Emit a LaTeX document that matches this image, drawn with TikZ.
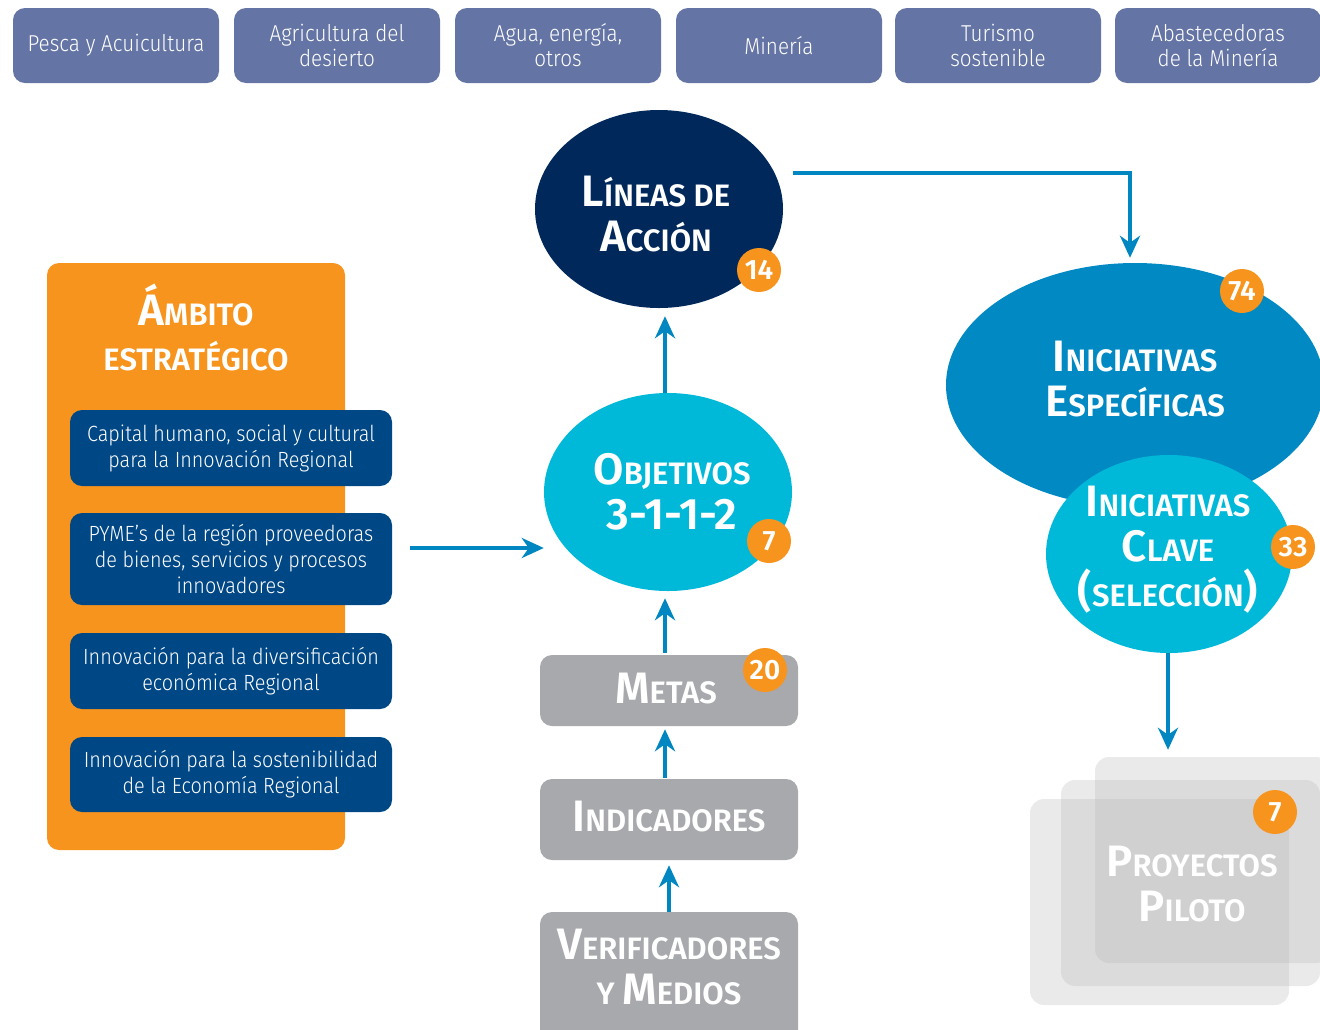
\documentclass[tikz,border=0pt]{standalone}
\usepackage{fontspec}
\setmainfont{Fira Sans}[UprightFont=* Light, BoldFont=* SemiBold, FakeStretch=0.9]
\newfontfamily\hd{Fira Sans SemiBold}
\usetikzlibrary{shapes.geometric,arrows.meta,calc}
\definecolor{topblue}{HTML}{6474A4}
\definecolor{navy}{HTML}{00285A}
\definecolor{orng}{HTML}{F7941D}
\definecolor{arrblue}{HTML}{0087C1}
\definecolor{espblue}{HTML}{0089C3}
\definecolor{cyanb}{HTML}{00B9D9}
\definecolor{grayb}{HTML}{A7A9AC}
\definecolor{darkb}{HTML}{004785}
\definecolor{pgray}{RGB}{180,180,182}
\newcommand\Bg[1]{{\fontsize{44}{45}\selectfont #1}}
\begin{document}
\begin{tikzpicture}[x=1pt,y=-1pt,
  topbox/.style={draw=none,fill=topblue,rounded corners=12pt,minimum width=206pt,minimum height=75pt,
     text=white,align=center,font=\fontsize{23}{25}\selectfont,inner sep=0pt},
  bluebox/.style={fill=darkb,rounded corners=12pt,minimum width=322pt,text=white,align=center,
     font=\fontsize{22}{26}\selectfont,inner sep=0pt},
  graybox/.style={fill=grayb,rounded corners=12pt,minimum width=258pt,inner sep=0pt},
  oval/.style={ellipse,inner sep=0pt},
  htext/.style={text=white,align=center,font=\hd\fontsize{31}{45}\selectfont,inner sep=0pt,
     text depth=0pt,anchor=south},
  badge/.style={circle,fill=orng,minimum size=44pt,inner sep=0pt,text=white,font=\hd\fontsize{28}{28}\selectfont},
  pbox/.style={fill=pgray,fill opacity=0.28,rounded corners=14pt,minimum width=259pt,minimum height=206pt,inner sep=0pt},
  arr/.style={draw=arrblue,line width=4pt,-{Stealth[length=22pt,width=20pt,inset=7pt]}}
]
\useasboundingbox (0,0) rectangle (1320,1029);
\clip (0,0) rectangle (1320,1029);

% top row
\node[topbox] (t1) at (116,45.5) {Pesca y Acuicultura};
\node[topbox] (t2) at (337,45.5) {Agricultura del\\desierto};
\node[topbox] (t3) at (558,45.5) {Agua, energía,\\otros};
\node[topbox] (t4) at (779,45.5) {Minería};
\node[topbox] (t5) at (998,45.5) {Turismo\\sostenible};
\node[topbox] (t6) at (1218,45.5) {Abastecedoras\\de la Minería};

% left panel
\node[fill=orng,rounded corners=12pt,minimum width=298pt,minimum height=587pt,inner sep=0pt] (amb) at (196,556.5) {};
\node[htext] (ambt) at (196,371) {\Bg{Á}MBITO\\ESTRATÉGICO};
\node[bluebox,minimum height=76pt] (b1) at (231,448) {Capital humano, social y cultural\\para la Innovación Regional};
\node[bluebox,minimum height=92pt] (b2) at (231,559) {PYME’s de la región proveedoras\\de bienes, servicios y procesos\\innovadores};
\node[bluebox,minimum height=76pt] (b3) at (231,671) {Innovación para la diversificación\\económica Regional};
\node[bluebox,minimum height=75pt] (b4) at (231,774.5) {Innovación para la sostenibilidad\\de la Economía Regional};

% center column
\node[oval,fill=navy,minimum width=248pt,minimum height=198pt] (lineas) at (659,209) {};
\node[htext] (lineast) at (656,252) {\Bg{L}ÍNEAS DE\\\Bg{A}CCIÓN};
\node[badge] (n14) at (759,270) {14};

\node[oval,fill=cyanb,minimum width=248pt,minimum height=198pt] (objetivos) at (668,492) {};
\node[htext] (objt) at (672,530) {\Bg{O}BJETIVOS\\\Bg{3-1-1-2}};
\node[badge] (n7a) at (769,541) {7};

\node[graybox,minimum height=71pt] (metas) at (669,690.5) {};
\node[htext] (metast) at (666,704) {\Bg{M}ETAS};
\node[badge] (n20) at (765,670) {20};

\node[graybox,minimum height=81pt] (indic) at (669,819.5) {};
\node[htext] (indict) at (669,832) {\Bg{I}NDICADORES};

\node[graybox,minimum height=140pt] (verif) at (669,982) {};
\node[htext] (verift) at (669,1005) {\Bg{V}ERIFICADORES\\Y \Bg{M}EDIOS};

% right column
\node[oval,fill=espblue,minimum width=378pt,minimum height=244pt] (espec) at (1135,385) {};
\node[htext] (espect) at (1135,417) {\Bg{I}NICIATIVAS\\\Bg{E}SPECÍFICAS};
\node[badge] (n74) at (1242,291) {74};

\node[oval,fill=cyanb,minimum width=246pt,minimum height=198pt] (clave) at (1169,554) {};
\node[htext] (clavet) at (1168,607) {\Bg{I}NICIATIVAS\\\Bg{C}LAVE\\\Bg{(}SELECCIÓN\Bg{)}};
\node[badge] (n33) at (1293,547) {33};

\node[pbox,minimum width=235pt] (pyA) at (1212.5,860) {};
\node[pbox] (pyB) at (1190.5,883) {};
\node[pbox] (pyC) at (1159.5,902) {};
\node[htext] (pyt) at (1192,922) {\Bg{P}ROYECTOS\\\Bg{P}ILOTO};
\node[badge] (n7b) at (1275,812) {7};

% connectors
\coordinate (ambout) at (410,548);
\draw[arr] (ambout) -- (ambout -| objetivos.west);
\draw[arr] ($(objetivos.north)+(-3,0)$) -- ($(lineas.south)+(6,8)$);
\draw[arr] ($(metas.north)+(-4,-2)$) -- ($(objetivos.south)+(-3,7)$);
\draw[arr] ($(indic.north)+(-4,-1)$) -- ($(metas.south)+(-4,3)$);
\draw[arr] (verif.north) -- ($(indic.south)+(0,5)$);
\draw[arr] ($(lineas.center)+(134,-36)$) -| ($(espec.north)+(-5,-5)$);
\draw[arr,shorten >=7pt] ($(clave.south)+(-1,0)$) -- ($(clave.south |- pyA.north)+(-1,0)$);
\end{tikzpicture}
\end{document}
